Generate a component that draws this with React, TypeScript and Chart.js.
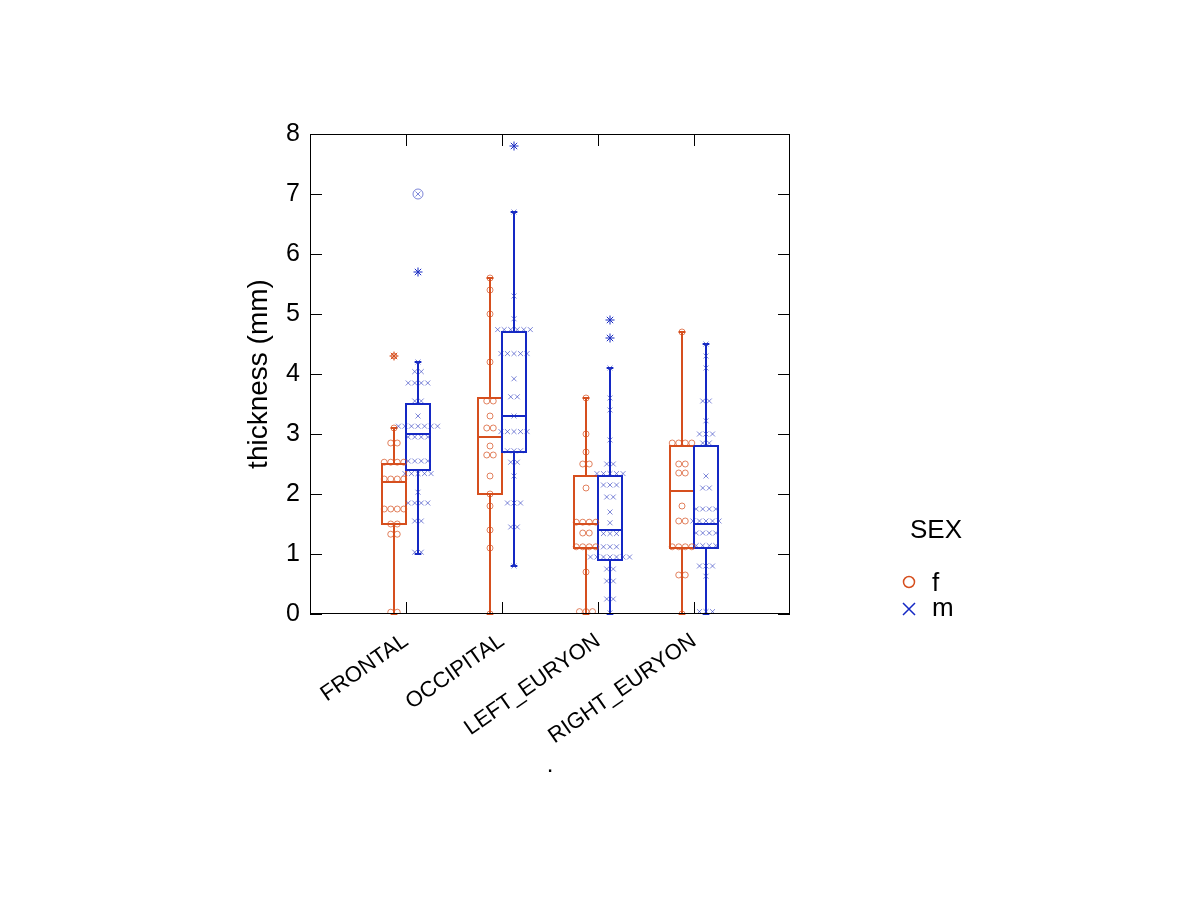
import React, { useEffect, useRef } from 'react';
import { Chart, registerables } from 'chart.js';

Chart.register(...registerables);

// ---------- data ----------
const categories = ['FRONTAL', 'OCCIPITAL', 'LEFT_EURYON', 'RIGHT_EURYON'];
const yTickValues = [0, 1, 2, 3, 4, 5, 6, 7, 8];
const legendTitle = 'SEX';
const seriesNames = ['f', 'm'];
const yAxisTitle = 'thickness (mm)';
const xAxisTitle = '.';

// individual observations (female)
const frontalF = [0.03, 0.03, 1.33, 1.33, 1.5, 1.5, 1.75, 1.75, 1.75, 1.75, 2.25, 2.25, 2.25, 2.25, 2.53, 2.53, 2.53, 2.53, 2.85, 2.85, 3.1, 4.3];
const occipitalF = [0, 1.1, 1.4, 1.8, 2.0, 2.3, 2.65, 2.65, 2.8, 3.1, 3.1, 3.3, 3.55, 3.55, 4.2, 5.0, 5.4, 5.6];
const leftEuryonF = [0.04, 0.04, 0.04, 0.7, 1.12, 1.12, 1.12, 1.12, 1.35, 1.35, 1.53, 1.53, 1.53, 1.53, 2.1, 2.5, 2.5, 2.7, 3.0, 3.6];
const rightEuryonF = [0, 0.65, 0.65, 1.12, 1.12, 1.12, 1.12, 1.55, 1.55, 1.8, 2.35, 2.35, 2.5, 2.5, 2.85, 2.85, 2.85, 2.85, 4.7];

// individual observations (male)
const frontalM = [1.03, 1.03, 1.55, 1.55, 1.85, 1.85, 1.85, 1.85, 2.03, 2.34, 2.34, 2.34, 2.34, 2.34, 2.55, 2.55, 2.55, 2.55, 2.95, 2.95, 2.95, 2.95, 3.13, 3.13, 3.13, 3.13, 3.13, 3.13, 3.13, 3.3, 3.55, 3.55, 3.85, 3.85, 3.85, 3.85, 4.04, 4.04, 4.2, 5.7, 7.0];
const occipitalM = [0.8, 1.45, 1.45, 1.85, 1.85, 1.85, 2.3, 2.53, 2.53, 2.72, 2.72, 2.72, 3.04, 3.04, 3.04, 3.04, 3.04, 3.3, 3.62, 3.62, 3.92, 4.34, 4.34, 4.34, 4.34, 4.34, 4.74, 4.74, 4.74, 4.74, 4.74, 4.74, 4.92, 5.3, 6.7, 7.8];
const leftEuryonM = [0.02, 0.25, 0.25, 0.55, 0.55, 0.75, 0.75, 0.95, 0.95, 0.95, 0.95, 0.95, 0.95, 0.95, 1.12, 1.12, 1.12, 1.34, 1.34, 1.34, 1.52, 1.7, 1.95, 1.95, 2.15, 2.15, 2.15, 2.34, 2.34, 2.34, 2.34, 2.34, 2.5, 2.5, 2.9, 3.4, 3.6, 4.1, 4.6, 4.9];
const rightEuryonM = [0.04, 0.04, 0.04, 0.63, 0.8, 0.8, 0.8, 1.14, 1.14, 1.14, 1.14, 1.35, 1.35, 1.35, 1.35, 1.55, 1.55, 1.55, 1.55, 1.55, 1.75, 1.75, 1.75, 1.75, 2.1, 2.1, 2.3, 2.85, 2.85, 3.0, 3.0, 3.0, 3.22, 3.55, 3.55, 4.1, 4.3, 4.5];

// box statistics: [whisker low, Q1, median, Q3, whisker high]
const femaleBoxes = [
  [0, 1.5, 2.2, 2.5, 3.1],
  [0, 2.0, 2.95, 3.6, 5.6],
  [0, 1.1, 1.5, 2.3, 3.6],
  [0, 1.1, 2.05, 2.8, 4.7],
];
const maleBoxes = [
  [1.0, 2.4, 3.0, 3.5, 4.2],
  [0.8, 2.7, 3.3, 4.7, 6.7],
  [0, 0.9, 1.4, 2.3, 4.1],
  [0, 1.1, 1.5, 2.8, 4.5],
];

// outliers
const femaleOutliers = [[4.3], [], [], []];
const maleOutliers = [[5.7], [7.8], [4.6, 4.9], []];
const maleFarOutliers = [[7.0], [], [], []];

// ---------- styling ----------
const FEMALE_COLOR = '#d64f1e';
const MALE_COLOR = '#1428c4';
const FEMALE_POINT = 'rgba(214,79,30,0.7)';
const MALE_POINT = 'rgba(40,55,190,0.6)';
const FONT = '"Liberation Sans", Arial, Helvetica, sans-serif';
const GROUP_OFFSET = 0.125;
const BOX_HALF = 0.125;
const DODGE_STEP = 0.068;

const femaleValues = [frontalF, occipitalF, leftEuryonF, rightEuryonF];
const maleValues = [frontalM, occipitalM, leftEuryonM, rightEuryonM];

function dodge(values: number[], center: number) {
  const totals = new Map<number, number>();
  values.forEach((v) => totals.set(v, (totals.get(v) || 0) + 1));
  const seen = new Map<number, number>();
  return values.map((v) => {
    const n = totals.get(v) || 1;
    const i = seen.get(v) || 0;
    seen.set(v, i + 1);
    return { x: center + (i - (n - 1) / 2) * DODGE_STEP, y: v };
  });
}

function groupPoints(groups: number[][], offset: number) {
  return groups.flatMap((vals, i) => dodge(vals, i + 1 + offset));
}

function outlierPoints(groups: number[][], offset: number) {
  return groups.flatMap((vals, i) => vals.map((v) => ({ x: i + 1 + offset, y: v })));
}

const boxPlugin = {
  id: 'boxesAndFrame',
  beforeDatasetsDraw(chart: any) {
    const { ctx, scales } = chart;
    const xs = scales.x;
    const ys = scales.y;
    const drawGroup = (stats: number[][], offset: number, color: string) => {
      stats.forEach((s, i) => {
        const [lo, q1, med, q3, hi] = s;
        const c = i + 1 + offset;
        const xl = xs.getPixelForValue(c - BOX_HALF);
        const xr = xs.getPixelForValue(c + BOX_HALF);
        const xc = xs.getPixelForValue(c);
        const capL = xs.getPixelForValue(c - 0.035);
        const capR = xs.getPixelForValue(c + 0.035);
        ctx.save();
        ctx.strokeStyle = color;
        ctx.lineWidth = 2;
        ctx.beginPath();
        ctx.moveTo(xc, ys.getPixelForValue(q3));
        ctx.lineTo(xc, ys.getPixelForValue(hi));
        ctx.moveTo(xc, ys.getPixelForValue(q1));
        ctx.lineTo(xc, ys.getPixelForValue(lo));
        ctx.moveTo(capL, ys.getPixelForValue(hi));
        ctx.lineTo(capR, ys.getPixelForValue(hi));
        ctx.moveTo(capL, ys.getPixelForValue(lo));
        ctx.lineTo(capR, ys.getPixelForValue(lo));
        ctx.stroke();
        const yt = ys.getPixelForValue(q3);
        const yb = ys.getPixelForValue(q1);
        ctx.strokeRect(xl, yt, xr - xl, yb - yt);
        ctx.beginPath();
        ctx.moveTo(xl, ys.getPixelForValue(med));
        ctx.lineTo(xr, ys.getPixelForValue(med));
        ctx.stroke();
        ctx.restore();
      });
    };
    drawGroup(femaleBoxes, -GROUP_OFFSET, FEMALE_COLOR);
    drawGroup(maleBoxes, GROUP_OFFSET, MALE_COLOR);
  },
  afterDraw(chart: any) {
    const { ctx, chartArea, scales } = chart;
    const xs = scales.x;
    const ys = scales.y;
    const { left, right, top, bottom } = chartArea;
    ctx.save();
    ctx.strokeStyle = '#000';
    ctx.lineWidth = 1;
    ctx.strokeRect(left + 0.5, top + 0.5, right - left - 1, bottom - top - 1);
    ctx.beginPath();
    yTickValues.forEach((v) => {
      const py = Math.round(ys.getPixelForValue(v)) + 0.5;
      ctx.moveTo(left, py);
      ctx.lineTo(left + 12, py);
      ctx.moveTo(right, py);
      ctx.lineTo(right - 12, py);
    });
    categories.forEach((_, i) => {
      const px = Math.round(xs.getPixelForValue(i + 1)) + 0.5;
      ctx.moveTo(px, bottom);
      ctx.lineTo(px, bottom - 12);
      ctx.moveTo(px, top);
      ctx.lineTo(px, top + 12);
    });
    ctx.stroke();

    // legend
    ctx.fillStyle = '#000';
    ctx.font = `26px ${FONT}`;
    ctx.textAlign = 'center';
    ctx.textBaseline = 'middle';
    ctx.fillText(legendTitle, 936, 531);
    ctx.textAlign = 'left';
    ctx.textBaseline = 'alphabetic';
    ctx.fillText(seriesNames[0], 932, 591);
    ctx.fillText(seriesNames[1], 932, 616);
    ctx.lineWidth = 1.5;
    ctx.strokeStyle = FEMALE_COLOR;
    ctx.beginPath();
    ctx.arc(909, 582, 5.5, 0, Math.PI * 2);
    ctx.stroke();
    ctx.strokeStyle = MALE_COLOR;
    ctx.beginPath();
    ctx.moveTo(903, 603);
    ctx.lineTo(915, 615);
    ctx.moveTo(915, 603);
    ctx.lineTo(903, 615);
    ctx.stroke();
    ctx.restore();
  },
};

export default function App() {
  const canvasRef = useRef<HTMLCanvasElement | null>(null);

  useEffect(() => {
    const canvas = canvasRef.current;
    if (!canvas) return;
    const chart = new Chart(canvas, {
      type: 'scatter',
      data: {
        datasets: [
          {
            label: seriesNames[0],
            data: groupPoints(femaleValues, -GROUP_OFFSET),
            pointStyle: 'circle',
            pointRadius: 3,
            borderColor: FEMALE_POINT,
            backgroundColor: 'rgba(0,0,0,0)',
            pointBorderWidth: 1,
          },
          {
            label: seriesNames[1],
            data: groupPoints(maleValues, GROUP_OFFSET),
            pointStyle: 'crossRot',
            pointRadius: 3.5,
            borderColor: MALE_POINT,
            backgroundColor: 'rgba(0,0,0,0)',
            pointBorderWidth: 1,
          },
          {
            label: 'f outliers',
            data: outlierPoints(femaleOutliers, -GROUP_OFFSET),
            pointStyle: 'star',
            pointRadius: 4.5,
            borderColor: FEMALE_COLOR,
            backgroundColor: 'rgba(0,0,0,0)',
            pointBorderWidth: 1,
          },
          {
            label: 'm outliers',
            data: outlierPoints(maleOutliers, GROUP_OFFSET),
            pointStyle: 'star',
            pointRadius: 4.5,
            borderColor: MALE_COLOR,
            backgroundColor: 'rgba(0,0,0,0)',
            pointBorderWidth: 1,
          },
          {
            label: 'm far outliers',
            data: outlierPoints(maleFarOutliers, GROUP_OFFSET),
            pointStyle: 'circle',
            pointRadius: 5,
            borderColor: MALE_POINT,
            backgroundColor: 'rgba(0,0,0,0)',
            pointBorderWidth: 1,
          },
        ],
      },
      options: {
        animation: false,
        responsive: false,
        maintainAspectRatio: false,
        layout: { padding: { left: 0, right: 410, top: 134, bottom: 120 } },
        plugins: {
          legend: { display: false },
          tooltip: { enabled: false },
        },
        scales: {
          x: {
            type: 'linear',
            min: 0,
            max: 5,
            afterBuildTicks: (s: any) => {
              s.ticks = categories.map((_, i) => ({ value: i + 1 }));
            },
            afterFit: (s: any) => {
              s.height = 166;
            },
            ticks: {
              autoSkip: false,
              maxRotation: 35,
              minRotation: 35,
              padding: 14,
              color: '#000',
              font: { family: FONT, size: 22 },
              callback: (v: any) => categories[Number(v) - 1] ?? '',
            },
            grid: { display: false, drawTicks: false },
            border: { display: false },
            title: {
              display: true,
              text: xAxisTitle,
              color: '#000',
              font: { family: FONT, size: 24 },
              padding: { top: 0, bottom: 0 },
            },
          },
          y: {
            type: 'linear',
            min: 0,
            max: 8,
            afterBuildTicks: (s: any) => {
              s.ticks = yTickValues.map((v) => ({ value: v }));
            },
            afterFit: (s: any) => {
              s.width = 310;
            },
            ticks: {
              padding: 10,
              color: '#000',
              font: { family: FONT, size: 25 },
            },
            grid: { display: false, drawTicks: false },
            border: { display: false },
            title: {
              display: true,
              text: yAxisTitle,
              color: '#000',
              font: { family: FONT, size: 28 },
              padding: { top: 242, bottom: 0 },
            },
          },
        },
      },
      plugins: [boxPlugin],
    });
    return () => chart.destroy();
  }, []);

  return (
    <div style={{ position: 'absolute', left: 0, top: 0, width: 1200, height: 900, background: '#fff' }}>
      <canvas ref={canvasRef} width={1200} height={900} style={{ width: 1200, height: 900 }} />
    </div>
  );
}
